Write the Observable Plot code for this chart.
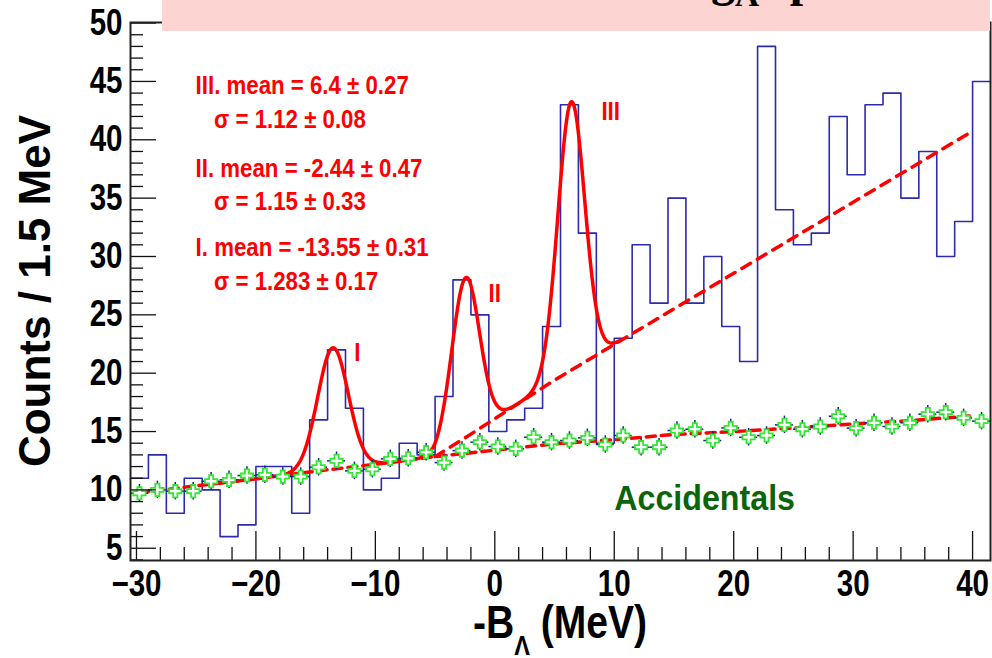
<!DOCTYPE html>
<html><head><meta charset="utf-8">
<script src="https://cdn.jsdelivr.net/npm/d3@7"></script>
<script src="https://cdn.jsdelivr.net/npm/@observablehq/plot@0.6"></script>
<style>
body{margin:0;background:#fff;}
#wrap{position:relative;width:992px;height:658px;overflow:hidden;background:#fff;}
#title{position:absolute;left:162px;top:0;width:828px;height:31px;background:#fcd5d3;overflow:hidden;}
#tt{position:absolute;left:500px;top:-44px;line-height:1;font:bold 48px/1 "Liberation Serif","Times New Roman",serif;white-space:nowrap;color:#000;}
#tt sub,#tt sup{font-size:0.7em;vertical-align:baseline;position:relative;line-height:0;}
#tt sub{top:0.3em;}
#tt sup{top:-0.6em;}
#ytitle{position:absolute;left:35px;top:291px;transform:translate(-50%,-50%) rotate(-90deg);font:bold 44px "Liberation Sans",Arial,sans-serif;white-space:nowrap;}
#xtitle{position:absolute;left:560px;top:595px;transform:translateX(-50%) scaleX(0.85);font:bold 46px "Liberation Sans",Arial,sans-serif;white-space:nowrap;}
#xtitle sub{font-size:0.6em;vertical-align:-0.6em;}
</style></head>
<body>
<div id="wrap">
  <div id="chart"></div>
  <div id="title"><span id="tt"><sup>27</sup>M<span id="tg">g</span><sub>Λ</sub> spectrum</span></div>
  <div id="ytitle">Counts / 1.5 MeV</div>
  <div id="xtitle">-B<sub>Λ</sub> (MeV)</div>
</div>
<script>
// ---- data ----
const binLow = -30.5;       // first bin lower edge (MeV)
const binWidth = 1.5;       // MeV per bin
const counts = [11,13,8,11,10,6,7,12,12,8,16,22,17,10,11,14,13,18,28,25,15,16,17,24,43,32,14,23,31,26,35,26,30,24,21,48,34,31,32,42,37,43,44,35,39,30,33,45];
const accidentals = [9.71,10.0,9.89,9.89,10.74,10.86,11.23,11.29,11.14,11.14,11.94,12.49,11.63,11.77,12.66,12.71,13.23,12.34,13.37,
  14.09,13.72,13.52,14.51,14.09,14.23,14.46,13.89,14.66,13.66,13.66,15.09,15.2,14.23,15.31,
  14.51,14.66,15.57,15.2,15.43,16.31,15.29,15.75,15.43,15.75,16.49,16.66,16.17,15.89];
const accErr = 0.75;
// accidental fit (lower dashed)
const accFitX = [-29.75,-25,-20,-15,-10,-5,0,5,10,15,20,25,30,35,40];
const accFitY = [9.75,10.35,10.95,11.6,12.2,12.85,13.4,13.95,14.3,14.75,15.0,15.3,15.65,15.95,16.35];
// background of signal fit (upper dashed)
const bgX = [-5,-2.5,0,5,10,20,30,39.6];
const bgY = [12.85,14.45,16.1,19.4,22.47,28.56,34.65,40.5];
// gaussian peaks
const peakNames = ["I","II","III"];
const peakMean = [-13.55,-2.44,6.4];
const peakSigma = [1.283,1.15,1.12];
const peakAmp = [10.4,13.7,23.0];
const fitRange = [-23,10.5];
// annotation texts
const statLines = ["III. mean = 6.4 \u00b1 0.27","\u03c3 = 1.12 \u00b1 0.08","II. mean = -2.44 \u00b1 0.47","\u03c3 = 1.15 \u00b1 0.33","I. mean = -13.55 \u00b1 0.31","\u03c3 = 1.283 \u00b1 0.17"];
const statX = [-25.05,-23.5,-25.05,-23.5,-25.05,-23.5];
const statY = [44.6,41.7,37.5,34.7,30.7,27.8];
const peakLabelX = [-11.5,0,9.7];
const peakLabelY = [21.7,26.8,42.4];
const xMajor = [-30,-20,-10,0,10,20,30,40];
const yMajor = [5,10,15,20,25,30,35,40,45,50];

// ---- derived tables ----
const bins = counts.map((c,i)=>({x1: binLow+i*binWidth, x2: binLow+(i+1)*binWidth, c, a: accidentals[i]}));
const step = bins.flatMap(b=>[{x:b.x1,y:b.c},{x:b.x2,y:b.c}]);
const accFit = accFitX.map((x,i)=>({x,y:accFitY[i]}));
const bgFit = bgX.map((x,i)=>({x,y:bgY[i]}));
const baseX = accFitX.filter(x=>x<bgX[0]).concat(bgX);
const baseY = accFitY.filter((y,i)=>accFitX[i]<bgX[0]).concat(bgY);
const base = d3.scaleLinear().domain(baseX).range(baseY);
const fitPts = d3.range(fitRange[0], fitRange[1]+1e-9, 0.05).map(x=>({x, y: base(x) + peakMean.reduce((s,m,k)=>s+peakAmp[k]*Math.exp(-0.5*((x-m)/peakSigma[k])**2),0)}));
const stats = statLines.map((t,i)=>({t,x:statX[i],y:statY[i]}));
const peaks = peakNames.map((t,i)=>({t,x:peakLabelX[i],y:peakLabelY[i]}));
const xMinor = d3.range(-30,41,2).filter(v=>v%10!==0);
const yMinor = d3.range(4,51,1).filter(v=>v%5!==0);

const SANS = '"Liberation Sans",Arial,sans-serif';
const W=992,H=658,mL=130,mR=2,mT=22,mB=98;
const innerW=W-mL-mR, innerH=H-mT-mB;
const fmt = d=> d<0 ? "\u2212"+Math.abs(d) : String(d);

const chart = Plot.plot({
  width:W, height:H, marginLeft:mL, marginRight:mR, marginTop:mT, marginBottom:mB,
  x:{domain:[-30.5,41.5]},
  y:{domain:[3.95,50.05]},
  style:{fontFamily:SANS, background:"#fff", overflow:"visible"},
  marks:[
    Plot.line(step,{x:"x",y:"y",stroke:"#2b2bab",strokeWidth:1.6}),
    Plot.line(accFit,{x:"x",y:"y",stroke:"#ff0000",strokeWidth:3.5,strokeDasharray:"9,6"}),
    Plot.line(bgFit,{x:"x",y:"y",stroke:"#ff0000",strokeWidth:3.5,strokeDasharray:"10,8"}),
    Plot.line(fitPts,{x:"x",y:"y",stroke:"#ff0000",strokeWidth:3.5}),
    Plot.ruleY(bins,{x1:"x1",x2:"x2",y:"a",stroke:"#1c1c8c",strokeWidth:1.5}),
    Plot.ruleX(bins,{x:d=>(d.x1+d.x2)/2,y1:d=>d.a-accErr,y2:d=>d.a+accErr,stroke:"#1c1c8c",strokeWidth:1.5}),
    Plot.dot(bins,{x:d=>(d.x1+d.x2)/2,y:"a",symbol:"cross",r:5.2,fill:"#fff",stroke:"#33e633",strokeWidth:1.8}),
    Plot.text(stats,{x:"x",y:"y",text:"t",textAnchor:"start",fill:"#ff0000",fontSize:25,fontWeight:"bold"}),
    Plot.text(peaks,{x:"x",y:"y",text:"t",fill:"#ff0000",fontSize:25,fontWeight:"bold"}),
    Plot.text(["Accidentals"],{x:10,y:9.2,text:d=>d,textAnchor:"start",fill:"#0a640a",fontSize:35,fontWeight:"bold"}),
    Plot.gridX(xMajor,{stroke:"#111",strokeOpacity:1,strokeWidth:1.3,insetTop:innerH-29}),
    Plot.gridX(xMinor,{stroke:"#111",strokeOpacity:1,strokeWidth:1.3,insetTop:innerH-13}),
    Plot.gridY(yMajor,{stroke:"#111",strokeOpacity:1,strokeWidth:1.3,insetRight:innerW-26}),
    Plot.gridY(yMinor,{stroke:"#111",strokeOpacity:1,strokeWidth:1.3,insetRight:innerW-13}),
    Plot.axisX(xMajor,{tickSize:0,tickPadding:10,fontSize:36,fontWeight:"bold",tickFormat:fmt,label:null,fill:"#000"}),
    Plot.axisY(yMajor,{tickSize:0,tickPadding:8,fontSize:36,fontWeight:"bold",label:null,fill:"#000"}),
    Plot.frame({stroke:"#222",strokeWidth:2})
  ]
});
document.getElementById("chart").appendChild(chart);

// condense the bold sans glyphs horizontally, like the narrow face of the original
const squeeze = {"36px":0.82, "25px":0.89, "35px":0.92};
chart.querySelectorAll("text").forEach(el=>{
  const s = squeeze[getComputedStyle(el).fontSize];
  if (!s) return;
  const len = el.getComputedTextLength();
  if (!(len > 0)) return;
  el.setAttribute("textLength", (len*s).toFixed(2));
  el.setAttribute("lengthAdjust", "spacingAndGlyphs");
});

// place the (mostly hidden) title so that its "g" sits where the original's does
const tt = document.getElementById("tt"), tg = document.getElementById("tg");
const box = document.getElementById("title").getBoundingClientRect();
const shift = 711 - tg.getBoundingClientRect().left;
tt.style.left = (parseFloat(getComputedStyle(tt).left) + shift) + "px";
</script>
</body></html>
